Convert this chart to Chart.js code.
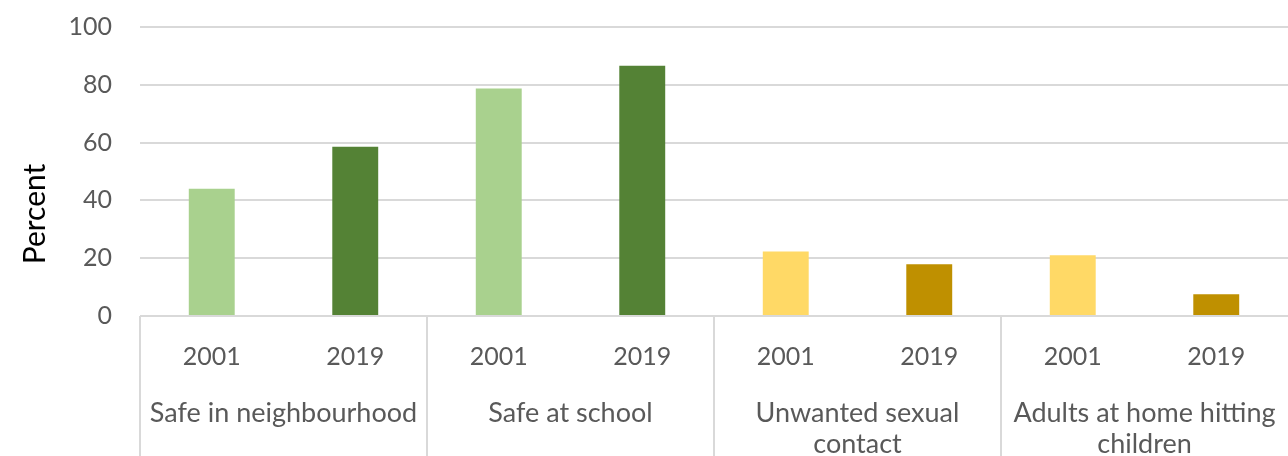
<!DOCTYPE html>
<html>
<head>
<meta charset="utf-8">
<script src="https://cdn.jsdelivr.net/npm/chart.js@4.4.1/dist/chart.umd.min.js"></script>
<style>
  html, body { margin: 0; padding: 0; background: #fff; }
  #wrap { width: 1288px; height: 456px; }
</style>
</head>
<body>
<div id="wrap"><canvas id="chart"></canvas></div>
<script>
// survey measures, share of children (%)
const groups = ['Safe in neighbourhood', 'Safe at school', ['Unwanted sexual', 'contact'], ['Adults at home hitting', 'children']];
const years = ['2001', '2019'];
const values2001 = [44, 78.7, 22.3, 21];
const values2019 = [58.6, 86.6, 17.9, 7.5];
const yTicks = [0, 20, 40, 60, 80, 100];

const lightColors = ['#A9D18E', '#A9D18E', '#FFD966', '#FFD966'];
const darkColors = ['#548235', '#548235', '#BF9000', '#BF9000'];

// one bar per (group, year)
const labels = [];
const values = [];
const colors = [];
groups.forEach((g, i) => {
  labels.push(years[0], years[1]);
  values.push(values2001[i], values2019[i]);
  colors.push(lightColors[i], darkColors[i]);
});

const FONT = 'Lato';
const TEXT = '#595959';
const GRID = '#d9d9d9';

// vertical separators between the groups, below the axis
const groupDividers = {
  id: 'groupDividers',
  afterDraw(chart) {
    const x = chart.scales.x;
    const ctx = chart.ctx;
    ctx.save();
    ctx.strokeStyle = GRID;
    ctx.lineWidth = 2;
    for (let k = 0; k < groups.length; k++) {
      const px = Math.round(x.left + (x.right - x.left) * k / groups.length);
      ctx.beginPath();
      ctx.moveTo(px, x.top);
      ctx.lineTo(px, chart.height);
      ctx.stroke();
    }
    ctx.restore();
  }
};

// y axis title, centred on the whole figure height
const yTitle = {
  id: 'yTitle',
  afterDraw(chart) {
    const ctx = chart.ctx;
    ctx.save();
    ctx.translate(35, 214);
    ctx.rotate(-Math.PI / 2);
    ctx.font = '30px ' + FONT;
    ctx.fillStyle = '#000';
    ctx.textAlign = 'center';
    ctx.textBaseline = 'middle';
    ctx.fillText('Percent', 0, 0);
    ctx.restore();
  }
};

new Chart(document.getElementById('chart'), {
  type: 'bar',
  data: {
    labels: labels,
    datasets: [{
      data: values,
      backgroundColor: colors,
      borderWidth: 0,
      categoryPercentage: 1,
      barPercentage: 0.32
    }]
  },
  options: {
    responsive: true,
    maintainAspectRatio: false,
    animation: false,
    layout: { padding: { top: 27, right: 0, left: 0, bottom: 0 } },
    plugins: {
      legend: { display: false },
      tooltip: { enabled: false }
    },
    scales: {
      y: {
        min: 0,
        max: 100,
        afterBuildTicks: (s) => { s.ticks = yTicks.map(v => ({ value: v })); },
        afterFit: (s) => { s.width = 140; },
        border: { display: false },
        // invisible tick marks keep the labels off the plot without adding top padding
        grid: { color: GRID, lineWidth: 2, drawTicks: true, tickLength: 28, tickColor: 'rgba(0,0,0,0)' },
        ticks: { color: TEXT, font: { family: FONT, size: 25 }, padding: 0 }
      },
      x: {
        offset: true,
        afterFit: (s) => { s.height = 62; },
        border: { display: false },
        grid: { display: false },
        ticks: { color: TEXT, font: { family: FONT, size: 25 }, padding: 18, maxRotation: 0, autoSkip: false }
      },
      x2: {
        type: 'category',
        labels: groups,
        position: 'bottom',
        offset: true,
        afterFit: (s) => { s.height = 78; },
        border: { display: false },
        grid: { display: false },
        ticks: { color: TEXT, font: { family: FONT, size: 27, lineHeight: 1.18 }, padding: 11, maxRotation: 0, autoSkip: false }
      }
    }
  },
  plugins: [groupDividers, yTitle]
});
</script>
</body>
</html>
